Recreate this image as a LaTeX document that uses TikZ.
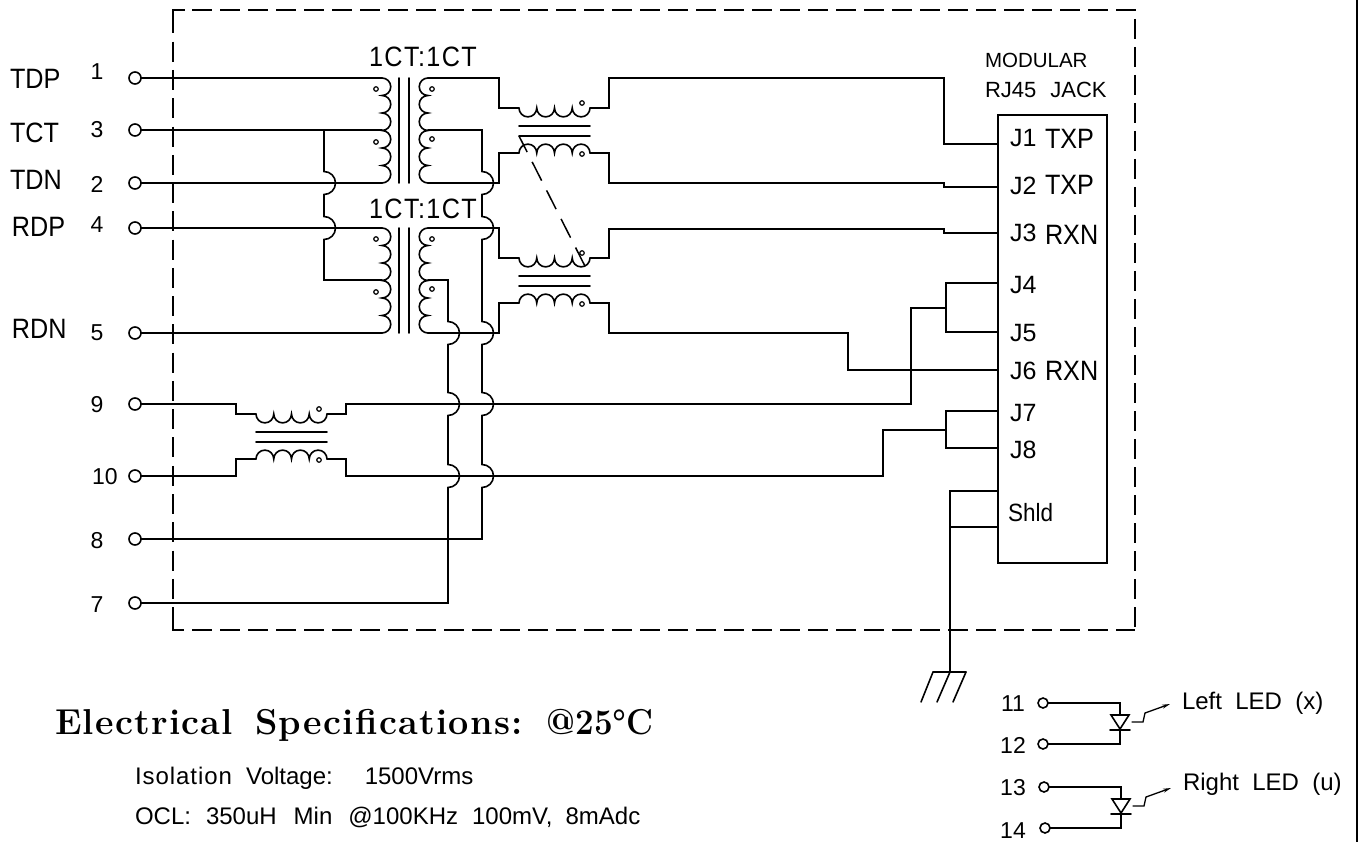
\documentclass[tikz,border=0pt]{standalone}
\usepackage{fontspec}
\usetikzlibrary{arrows.meta}
\setmainfont{Liberation Sans}
\newfontfamily\cad[FakeStretch=0.9]{Liberation Sans}
\newfontfamily\cadw{Liberation Sans}
\newfontfamily\ttl[LetterSpace=3.5]{Latin Modern Roman}
\newfontfamily\ttlb[FakeStretch=0.92]{Latin Modern Roman}
\newcommand\fs[1]{\fontsize{#1}{#1}\selectfont\cad}
\newcommand\fw[1]{\fontsize{#1}{#1}\selectfont\cadw}
\newcommand\bumpR{arc[start angle=90,end angle=-90,radius=8.75pt]}
\newcommand\bumpL{arc[start angle=90,end angle=270,radius=8.75pt]}
\newcommand\bumpD{arc[start angle=180,end angle=360,radius=8.875pt]}
\newcommand\bumpU{arc[start angle=180,end angle=0,radius=8.875pt]}
\newcommand\hop{arc[start angle=90,end angle=-90,radius=11.5pt]}
\tikzset{
  wire/.style={line width=1.6pt,line cap=round,line join=miter},
  term/.style={circle,draw,line width=1.6pt,fill=white,minimum size=12pt,inner sep=0pt,outer sep=0pt},
  smallterm/.style={term,minimum size=10pt},
  coildot/.style={circle,draw,line width=1.2pt,fill=white,minimum size=4.5pt,inner sep=0pt},
  lab/.style={inner sep=0pt,outer sep=0pt,anchor=base west},
  num/.style={inner sep=0pt,outer sep=0pt,anchor=base,font=\fw{23}},
  pinlab/.style={lab,font=\fw{25}},
  sig/.style={lab,font=\fs{28}},
  spec/.style={lab,font=\fw{24}},
  bx/.style={line width=1.7pt},
}
% isolation transformer: name, top y
\newcommand\xfmr[2]{%
  \coordinate (#1lt) at (382,#2);
  \coordinate (#1lm) at (382,#2+52);
  \coordinate (#1lb) at (382,#2+105);
  \coordinate (#1rt) at (428,#2);
  \coordinate (#1rm) at (428,#2+52);
  \coordinate (#1rb) at (428,#2+105);
  \draw[wire] (#1lt) \bumpR \bumpR \bumpR \bumpR \bumpR \bumpR;
  \draw[wire] (#1rt) \bumpL \bumpL \bumpL \bumpL \bumpL \bumpL;
  \draw[wire] (399,#2) -- (399,#2+105);
  \draw[wire] (409,#2) -- (409,#2+105);
  \node[coildot] (#1d1) at (376,#2+11) {};
  \node[coildot] (#1d2) at (376,#2+64) {};
  \node[coildot] (#1d3) at (432,#2+11) {};
  \node[coildot] (#1d4) at (432,#2+61) {};
}
% common mode choke: name, left x, top y
\newcommand\choke[3]{%
  \coordinate (#1tl) at (#2,#3);
  \coordinate (#1tr) at (#2+71,#3);
  \coordinate (#1bl) at (#2,#3+45);
  \coordinate (#1br) at (#2+71,#3+45);
  \coordinate (#1cl) at (#2,#3+28);
  \coordinate (#1cr) at (#2+71,#3+18);
  \draw[wire] (#1tl) \bumpD \bumpD \bumpD \bumpD;
  \draw[wire] (#1bl) \bumpU \bumpU \bumpU \bumpU;
  \draw[wire] (#2,#3+18) -- (#2+71,#3+18);
  \draw[wire] (#2,#3+28) -- (#2+71,#3+28);
  \node[coildot] (#1d1) at (#2+63,#3-5) {};
  \node[coildot] (#1d2) at (#2+63,#3+46) {};
}
% LED: name, x, triangle top y, term a, term k
\newcommand\led[5]{%
  \coordinate (#1a) at (#2,#3);
  \coordinate (#1k) at (#2,#3+15);
  \draw[wire] (#2-9,#3) -- (#2+9,#3) -- (#2,#3+14) -- cycle;
  \draw[wire] (#2-10,#3+15) -- (#2+10,#3+15);
  \draw[wire] (#4) -| (#1a);
  \draw[wire] (#5) -| (#1k);
  \coordinate (#1s) at (#2+12,#3+7);
  \coordinate (#1e) at (#2+50,#3-11);
  \draw[wire,line width=1.3pt,-{Stealth[length=8pt,width=4pt]}] (#1s) -- ++(11,0) -- ++(2,-9) -- (#1e);
}
\begin{document}
\begin{tikzpicture}[x=1pt,y=-1pt]
\useasboundingbox (0,0) rectangle (1359,842);
% outer frame edge
\fill (1355.6,0) rectangle (1358,842);
% dashed enclosure
\coordinate (bxa) at (173,10);
\coordinate (bxb) at (1135,10);
\coordinate (bxc) at (1135,630);
\coordinate (bxd) at (173,630);
\coordinate (bt1) at (173,33);
\coordinate (bt2) at (185,10);
\coordinate (bt3) at (192,10);
\coordinate (bl1) at (173,41.7);
\coordinate (bl2) at (173,600);
\coordinate (bb1) at (173,607.4);
\coordinate (bb2) at (184,630);
\coordinate (bb3) at (192,630);
\draw[bx] (bt1) -- (bxa) -- (bt2);
\draw[bx] (bb1) -- (bxd) -- (bb2);
\draw[bx,dash pattern=on 20pt off 8pt] (bt3) -- (bxb) -- (bxc);
\draw[bx,dash pattern=on 20pt off 8pt] (bb3) -- (bxc);
\draw[bx,dash pattern=on 20pt off 8.27pt] (bl1) -- (bl2);
% terminals
\node[term] (t1) at (135,78) {};
\node[term] (t3) at (135,130) {};
\node[term] (t2) at (135,183) {};
\node[term] (t4) at (135,228) {};
\node[term] (t5) at (135,333) {};
\node[term] (t9) at (135,404) {};
\node[term] (t10) at (135,476) {};
\node[term] (t8) at (135,539) {};
\node[term] (t7) at (135,603) {};
% magnetics
\xfmr{A}{78}
\xfmr{B}{228}
\choke{C}{519}{108}
\choke{D}{519}{258}
\choke{Q}{256}{414}
% jack
\node[draw,line width=1.6pt,minimum width=109pt,minimum height=448pt,inner sep=0pt,outer sep=0pt] (jack) at (1052.5,339) {};
\coordinate (J1) at (998,144);
\coordinate (J2) at (998,187);
\coordinate (J3) at (998,233);
\coordinate (J4) at (998,283);
\coordinate (J5) at (998,332);
\coordinate (J6) at (998,370);
\coordinate (J7) at (998,411);
\coordinate (J8) at (998,448);
\coordinate (S1) at (998,491);
\coordinate (S2) at (998,527);
% primary wires
\draw[wire] (t1) -- (Alt);
\draw[wire] (t3) -- (Alm);
\draw[wire] (t2) -- (Alb);
\draw[wire] (t4) -- (Blt);
\draw[wire] (t5) -- (Blb);
% centre tap bus, left
\coordinate (a0) at (324,130);
\coordinate (a1) at (324,171.5);
\coordinate (a2) at (324,216.5);
\draw[wire] (a0) -- (a1) \hop -- (a2) \hop |- (Blm);
% centre tap, transformer A secondary -> pin 8
\coordinate (b1) at (482,171.5);
\coordinate (b2) at (482,216.5);
\coordinate (b3) at (482,321.5);
\coordinate (b4) at (482,392.5);
\coordinate (b5) at (482,464.5);
\draw[wire] (Arm) -| (b1) \hop -- (b2) \hop -- (b3) \hop -- (b4) \hop -- (b5) \hop |- (t8);
% centre tap, transformer B secondary -> pin 7
\coordinate (c3) at (448,321.5);
\coordinate (c4) at (448,392.5);
\coordinate (c5) at (448,464.5);
\draw[wire] (Brm) -| (c3) \hop -- (c4) \hop -- (c5) \hop |- (t7);
% choke connections, left
\draw[wire] (Ctl) -- ++(-20,0) |- (Art);
\draw[wire] (Cbl) -- ++(-20,0) |- (Arb);
\draw[wire] (Dtl) -- ++(-20,0) |- (Brt);
\draw[wire] (Dbl) -- ++(-20,0) |- (Brb);
\draw[wire] (Qtl) -- ++(-20,0) |- (t9);
\draw[wire] (Qbl) -- ++(-20,0) |- (t10);
% choke connections, right
\coordinate (g1) at (944,78);
\coordinate (g2) at (944,183);
\coordinate (g3) at (944,229);
\coordinate (g4) at (848,333);
\coordinate (k1) at (911,404);
\coordinate (k2) at (883,476);
\coordinate (n45) at (946,308);
\coordinate (n78) at (946,430);
\draw[wire] (Ctr) -- ++(19,0) |- (g1) |- (J1);
\draw[wire] (Cbr) -- ++(19,0) |- (g2) |- (J2);
\draw[wire] (Dtr) -- ++(19,0) |- (g3) |- (J3);
\draw[wire] (Dbr) -- ++(19,0) |- (g4) |- (J6);
\draw[wire] (Qtr) -- ++(19,0) |- (k1) |- (n45);
\draw[wire] (Qbr) -- ++(19,0) |- (k2) |- (n78);
\draw[wire] (J4) -| (n45) |- (J5);
\draw[wire] (J7) -| (n78) |- (J8);
% dashed coupling
\draw[line width=1.5pt,dash pattern=on 21pt off 11pt,dash phase=3pt] (Ccl) -- (Dcr);
% shield and ground
\coordinate (gnd) at (950,672);
\coordinate (gl) at (933,672);
\coordinate (gr) at (966,672);
\coordinate (gl2) at (921,702);
\coordinate (gm2) at (937,702);
\coordinate (gr2) at (953,702);
\draw[wire] (S1) -| (gnd);
\draw[wire] (S2) -- (S2 -| gnd);
\draw[wire] (gl) -- (gr);
\draw[wire] (gl) -- (gl2);
\draw[wire] (gnd) -- (gm2);
\draw[wire] (gr) -- (gr2);
% LEDs
\node[smallterm] (t11) at (1043,703) {};
\node[smallterm] (t12) at (1043,744) {};
\node[smallterm] (t13) at (1044,787) {};
\node[smallterm] (t14) at (1045,828) {};
\led{L}{1120}{715}{t11}{t12}
\led{R}{1121}{799}{t13}{t14}
% signal labels
\node[sig] (lTDP) at (10,89) {TDP};
\node[sig] (lTCT) at (10,142.5) {TCT};
\node[sig] (lTDN) at (10,190) {TDN};
\node[sig] (lRDP) at (12,237) {RDP};
\node[sig] (lRDN) at (12,338) {RDN};
\node[num] (n1) at (97,79.5) {1};
\node[num] (n3) at (97,138) {3};
\node[num] (n2) at (97,192.5) {2};
\node[num] (n4) at (97,233) {4};
\node[num] (n5) at (97,340) {5};
\node[num] (n9) at (97,412) {9};
\node[num] (n10) at (105,484) {10};
\node[num] (n8) at (97,548) {8};
\node[num] (n7) at (97,612) {7};
\node[sig] (ct1) at (369,67) {\addfontfeature{LetterSpace=5}1CT:1CT};
\node[sig] (ct2) at (369,218.5) {\addfontfeature{LetterSpace=5}1CT:1CT};
\node[lab,font=\fw{20.5}] (m1) at (985,68) {MODULAR};
\node[lab,font=\fw{22}] (m2) at (985,98) {RJ45\hspace{14pt}JACK};
\node[pinlab] (pJ1) at (1010,147) {J1};
\node[sig] (sJ1) at (1045,149) {TXP};
\node[pinlab] (pJ2) at (1010,195) {J2};
\node[sig] (sJ2) at (1045,195) {TXP};
\node[pinlab] (pJ3) at (1010,242) {J3};
\node[sig] (sJ3) at (1045,244.5) {RXN};
\node[pinlab] (pJ4) at (1010,293.5) {J4};
\node[pinlab] (pJ5) at (1010,341.5) {J5};
\node[pinlab] (pJ6) at (1010,379) {J6};
\node[sig] (sJ6) at (1045,380) {RXN};
\node[pinlab] (pJ7) at (1010,421) {J7};
\node[pinlab] (pJ8) at (1010,458.5) {J8};
\node[lab,font=\fs{25}] (pS) at (1008,521) {Shld};
% LED labels
\node[num] (n11) at (1013,711) {11};
\node[num] (n12) at (1013,753) {12};
\node[num] (n13) at (1013,795) {13};
\node[num] (n14) at (1013,838) {14};
\node[lab,font=\fw{24}] (ll) at (1182,709) {Left~~LED~~(x)};
\node[lab,font=\fw{24}] (rl) at (1183,790) {Right~~LED~~(u)};
% specifications
\node[lab,font=\fontsize{36}{36}\selectfont\ttl\bfseries] (title) at (55,734) {Electrical\hspace{22pt}Specifications:\hspace{24pt}{\ttlb\bfseries @25°C}};
\node[spec] (s1) at (135,784) {{\addfontfeature{LetterSpace=4}Isolation}\hspace{14pt}Voltage:\hspace{32pt}1500Vrms};
\node[spec] (s2) at (135,824) {OCL:\hspace{15pt}350uH\hspace{17pt}Min\hspace{16pt}@100KHz\hspace{14pt}100mV,\hspace{13pt}8mAdc};
\node[spec] (s3a) at (351,860) {(};
\node[spec] (s3b) at (482,860) {)};
\end{tikzpicture}
\end{document}
